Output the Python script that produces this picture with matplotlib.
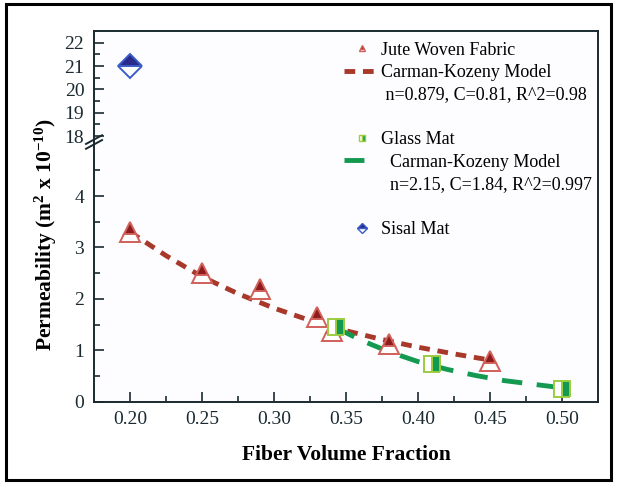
import matplotlib.pyplot as plt
from matplotlib.patches import Rectangle
from matplotlib.lines import Line2D

plt.rcParams['font.family'] = ['Liberation Serif', 'DejaVu Serif']
plt.rcParams['mathtext.default'] = 'regular'

# measured points
jute_x = [0.20, 0.25, 0.29, 0.33, 0.34, 0.38, 0.45]
jute_y = [3.30, 2.50, 2.20, 1.65, 1.38, 1.12, 0.80]

glass_x = [0.343, 0.41, 0.50]
glass_y = [1.45, 0.73, 0.25]

sisal_x = [0.20]
sisal_y = [21.0]

# Carman-Kozeny model curves
ck_jute_x = [0.20, 0.225, 0.25, 0.275, 0.30, 0.325, 0.35, 0.375, 0.40, 0.425, 0.45]
ck_jute_y = [3.30, 2.84, 2.43, 2.10, 1.82, 1.58, 1.38, 1.21, 1.06, 0.93, 0.81]

ck_glass_x = [0.343, 0.36, 0.38, 0.40, 0.42, 0.44, 0.46, 0.48, 0.50]
ck_glass_y = [1.44, 1.20, 0.97, 0.78, 0.63, 0.51, 0.41, 0.34, 0.27]

xticks = [0.20, 0.25, 0.30, 0.35, 0.40, 0.45, 0.50]
xtick_labels = ['0.20', '0.25', '0.30', '0.35', '0.40', '0.45', '0.50']
low_yticks = [0, 1, 2, 3, 4]
high_yticks = [18, 19, 20, 21, 22]

red = '#8e1c1c'
red_edge = '#d0605a'
red_line = '#a8392a'
green = '#139a50'
green_edge = '#9ccc40'
blue = '#2a2a8a'
blue_edge = '#3a5cc8'

fig = plt.figure(figsize=(6.17, 4.84), dpi=100)
fig.patches.append(Rectangle((0.009, 0.009), 0.982, 0.982, transform=fig.transFigure,
                             fill=False, edgecolor='black', linewidth=2.2))

ax_hi = fig.add_axes([0.1524, 0.7066, 0.8168, 0.2293])
ax_lo = fig.add_axes([0.1524, 0.1700, 0.8168, 0.5366])

for ax in (ax_hi, ax_lo):
    ax.set_facecolor('#fdfcff')
    ax.set_xlim(0.175, 0.525)
    for s in ax.spines.values():
        s.set_linewidth(1.4)
        s.set_color('#1a2a30')
    ax.tick_params(direction='in', which='both', top=False, right=False,
                   labelsize=14, width=1.2, pad=7, colors='#1a2a30')
    ax.tick_params(which='major', length=7)
    ax.tick_params(which='minor', length=4)

ax_hi.spines['bottom'].set_visible(False)
ax_lo.spines['top'].set_visible(False)
ax_hi.tick_params(axis='x', which='both', bottom=False, labelbottom=False)

ax_hi.set_ylim(17.75, 22.5)
ax_hi.set_yticks(high_yticks)
ax_hi.set_yticks([17.5 + 0.5 * i for i in range(1, 10)], minor=True)
ax_lo.set_ylim(0, 5.05)
ax_lo.set_yticks(low_yticks)
ax_lo.set_yticks([0.5, 1.5, 2.5, 3.5, 4.5], minor=True)
ax_lo.set_xticks(xticks)
ax_lo.set_xticklabels(xtick_labels)
ax_lo.set_xticks([0.225, 0.275, 0.325, 0.375, 0.425, 0.475], minor=True)

# break marks on left axis
bk = dict(transform=fig.transFigure, color='#1a2a30', lw=1.4, clip_on=False)
for dy in (-0.005, 0.005):
    fig.add_artist(Line2D([0.1524 - 0.013, 0.1524 + 0.013],
                          [0.7066 + dy - 0.009, 0.7066 + dy + 0.009], **bk))

# model curves
ax_lo.plot(ck_jute_x, ck_jute_y, color=red_line, lw=3.5, dashes=(2.2, 1.6), zorder=2)
ax_lo.plot(ck_glass_x, ck_glass_y, color=green, lw=3.5, dashes=(4.2, 3.0), zorder=2)

# data markers
ax_lo.plot(jute_x, jute_y, ls='none', marker='^', ms=15, fillstyle='top',
           markerfacecolor=red, markerfacecoloralt='white', markeredgecolor=red_edge,
           markeredgewidth=1.4, zorder=3)
ax_lo.plot(glass_x, glass_y, ls='none', marker='s', ms=12, fillstyle='right',
           markerfacecolor=green, markerfacecoloralt='white', markeredgecolor=green_edge,
           markeredgewidth=1.4, zorder=4)
ax_hi.plot(sisal_x, sisal_y, ls='none', marker='D', ms=12, fillstyle='top',
           markerfacecolor=blue, markerfacecoloralt='white', markeredgecolor=blue_edge,
           markeredgewidth=1.4, zorder=3)

# legend
blank = Line2D([], [], ls='none')
handles = [
    Line2D([], [], ls='none', marker='^', ms=5, fillstyle='top', markerfacecolor=red,
           markerfacecoloralt='white', markeredgecolor=red_edge),
    Line2D([], [], color=red_line, lw=3.5, dashes=(2.2, 1.6)),
    blank, blank,
    Line2D([], [], ls='none', marker='s', ms=5, fillstyle='right', markerfacecolor=green,
           markerfacecoloralt='white', markeredgecolor=green_edge),
    Line2D([], [], color=green, lw=3.5, dashes=(4.1, 20)),
    blank, blank,
    Line2D([], [], ls='none', marker='D', ms=5, fillstyle='top', markerfacecolor=blue,
           markerfacecoloralt='white', markeredgecolor=blue_edge),
]
labels = ['Jute Woven Fabric', 'Carman-Kozeny Model', ' n=0.879, C=0.81, R^2=0.98', ' ',
          'Glass Mat', '  Carman-Kozeny Model', '  n=2.15, C=1.84, R^2=0.997', ' ',
          'Sisal Mat']
fig.legend(handles, labels, loc='upper left', bbox_to_anchor=(0.5575, 0.914),
           frameon=False, fontsize=13, handlelength=1.95, handletextpad=0.1,
           labelspacing=0.3, borderpad=0.0, borderaxespad=0.0)

fig.text(0.562, 0.06, 'Fiber Volume Fraction', ha='center', va='center',
         fontsize=15.5, fontweight='bold')
fig.text(0.075, 0.515, 'Permeability (m$^{2}$ x 10$^{-10}$)', ha='center', va='center',
         rotation=90, fontsize=15.5, fontweight='bold')

fig.savefig('out.png', dpi=100, facecolor='white')
